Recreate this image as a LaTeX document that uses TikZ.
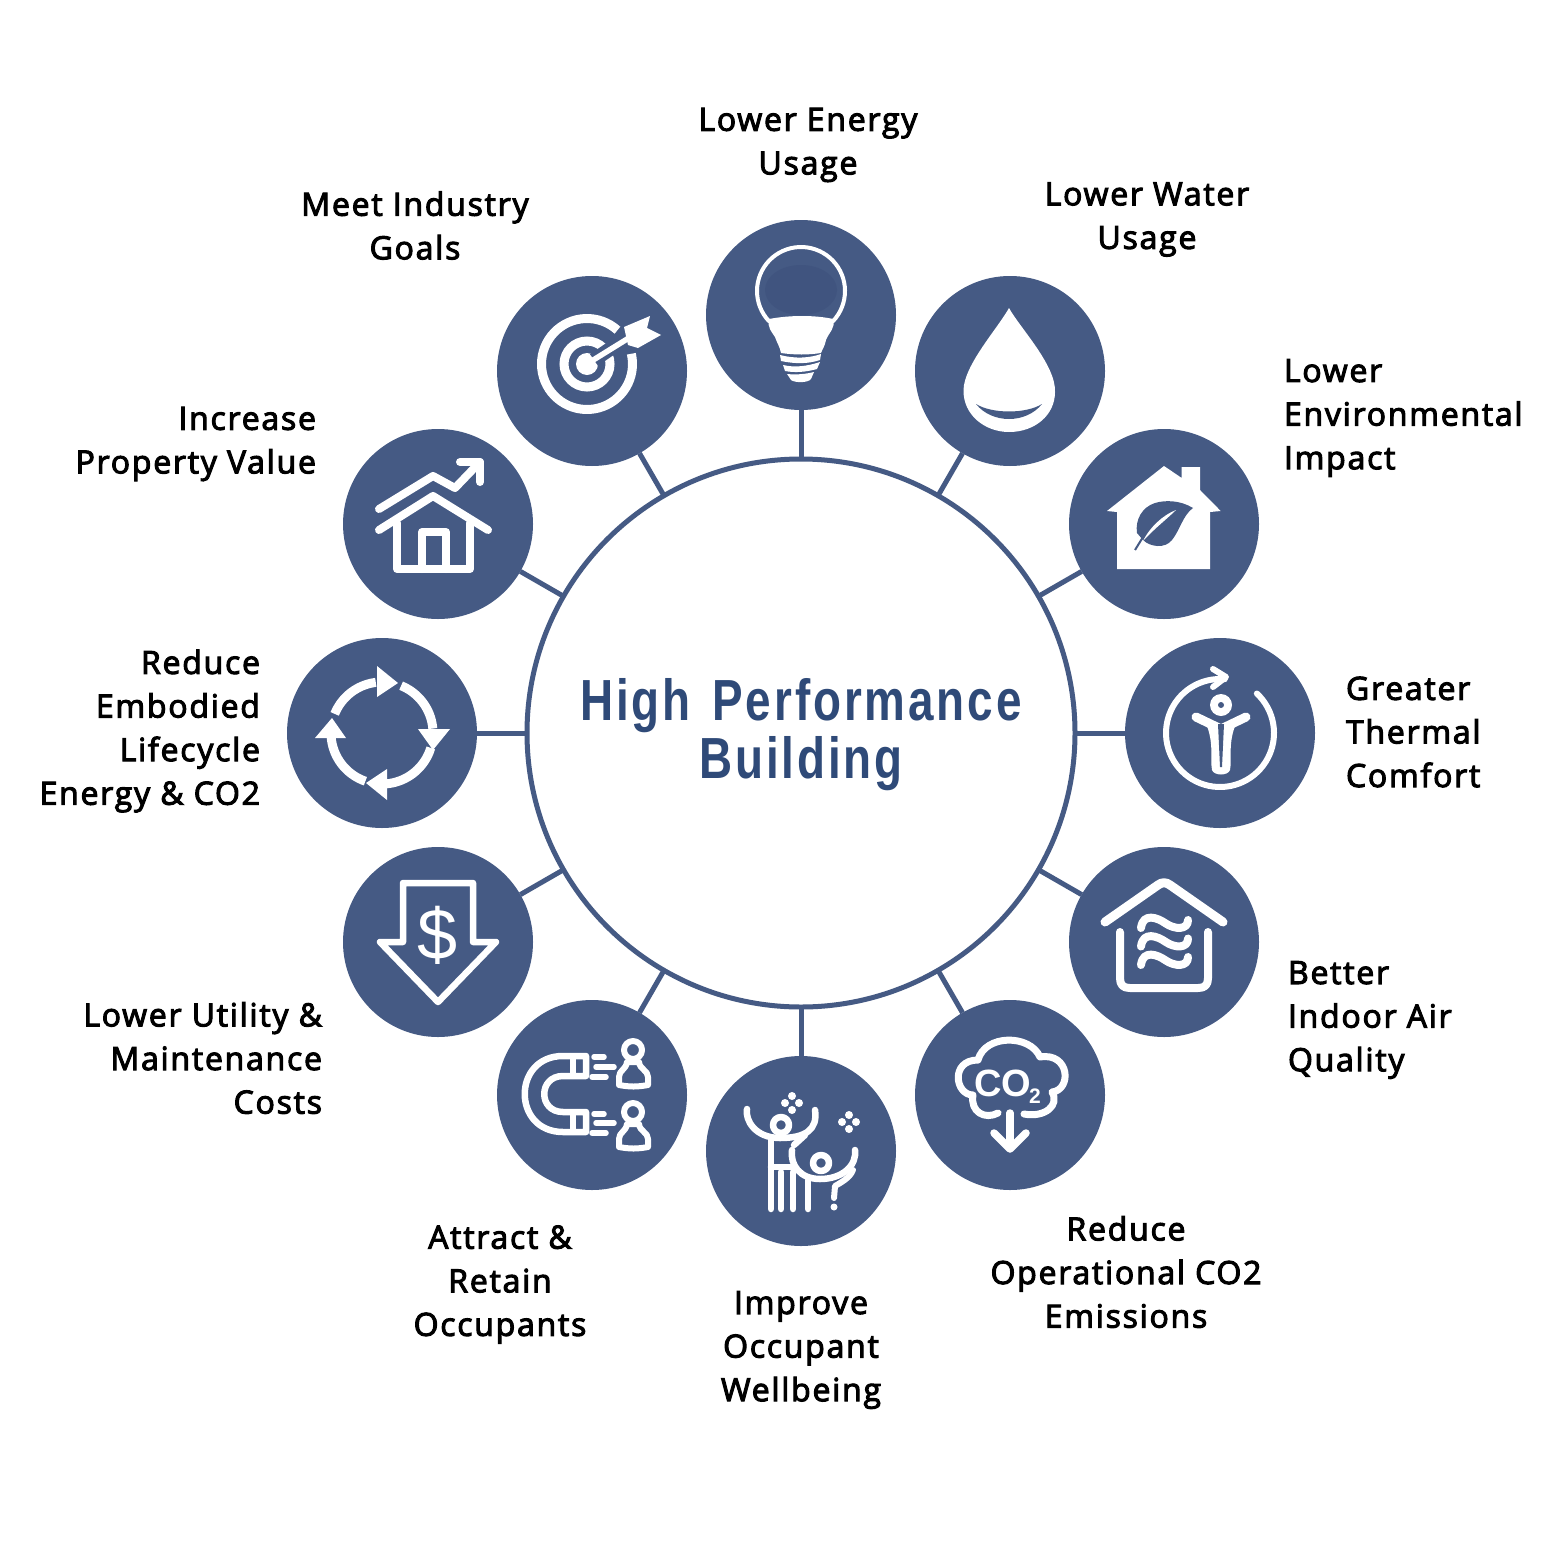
\documentclass[tikz,border=0pt]{standalone}
\usepackage{fontspec}
\setmainfont{Open Sans}[FakeBold=3.2,LetterSpace=5.5]
\newfontfamily\titlefont[FakeStretch=0.79,LetterSpace=5]{Liberation Sans}[BoldFont={Liberation Sans Bold}]
\newfontfamily\iconfont{Liberation Sans}
\definecolor{navy}{HTML}{455A84}
\definecolor{navydark}{HTML}{40547F}
\definecolor{titleblue}{HTML}{2F4A78}
\tikzset{
  hubnode/.style={circle,draw=navy,line width=5pt,fill=white,minimum size=548pt,inner sep=0pt,outer sep=0pt},
  sat/.style={circle,fill=navy,minimum size=190pt,inner sep=0pt,outer sep=0pt},
  conn/.style={draw=navy,line width=5pt},
  lab/.style={font=\fontsize{32}{43.6}\selectfont,text=black,inner sep=0pt,outer sep=0pt},
  labL/.style={lab,align=left,anchor=west},
  labR/.style={lab,align=right,anchor=east},
  labC/.style={lab,align=center,anchor=center},
  ic/.style={draw=white,line cap=round,line join=round,line width=#1},
  ic/.default=6pt,
}
\begin{document}
\begin{tikzpicture}[x=1pt,y=-1pt]
\useasboundingbox (0,0) rectangle (1563,1563);
\fill[white] (0,0) rectangle (1563,1563);
% hub and satellites
\node[hubnode] (hub) at (801,733) {};
\node[sat] (s1) at (801,315) {};
\node[sat] (s2) at (1010,371) {};
\node[sat] (s3) at (1164,524) {};
\node[sat] (s4) at (1220,733) {};
\node[sat] (s5) at (1164,942) {};
\node[sat] (s6) at (1010,1095) {};
\node[sat] (s7) at (801,1151) {};
\node[sat] (s8) at (592,1095) {};
\node[sat] (s9) at (438,942) {};
\node[sat] (s10) at (382,733) {};
\node[sat] (s11) at (438,524) {};
\node[sat] (s12) at (592,371) {};
\foreach \n in {1,...,12} \draw[conn] (hub) -- (s\n);
% title
\node[inner sep=0pt,text=titleblue,align=center,font=\titlefont\bfseries\fontsize{58}{58}\selectfont] (title) at (801,735) {High\hspace{6pt} Performance\\Building};
% labels
\node[labC] (l1) at (808,145) {Lower Energy\\Usage};
\node[labC] (l2) at (1147,219.5) {Lower Water\\Usage};
\node[labL] (l3) at (1284,418) {Lower\\Environmental\\Impact};
\node[labL] (l4) at (1346,732) {Greater\\Thermal\\Comfort};
\node[labL] (l5) at (1288,1020) {Better\\Indoor Air\\Quality};
\node[labC] (l6) at (1126,1272) {Reduce\\Operational CO2\\Emissions};
\node[labC] (l7) at (801,1350) {Improve\\Occupant\\Wellbeing};
\node[labC] (l8) at (500,1284.5) {Attract \&\\Retain\\Occupants};
\node[labR] (l9) at (322,1058) {Lower Utility \&\\Maintenance\\Costs};
\node[labR] (l10) at (260,731) {Reduce\\Embodied\\Lifecycle\\Energy \& CO2};
\node[labR] (l11) at (316,444) {Increase\\Property Value};
\node[labC] (l12) at (415,225.5) {Meet Industry\\Goals};
% bulb
\fill[navydark] (801,290) ellipse[x radius=36pt,y radius=25pt];
\draw[ic=4pt] plot[domain=-43:223,samples=50] ({801+44*cos(\x)},{291-44*sin(\x)});
\fill[white] (769,319) .. controls (790,315) and (815,315) .. (833,319) .. controls (836,328) and (829,332) .. (826,340) .. controls (825,346) and (822,350) .. (821,353) .. controls (808,355) and (795,355) .. (781,353) .. controls (780,347) and (777,343) .. (775,337) .. controls (772,332) and (767,328) .. (769,319) -- cycle;
\fill[white] (780,355) .. controls (795,359) and (810,358) .. (821,354) -- (820,360) .. controls (808,364) and (795,364) .. (781,361) -- cycle;
\fill[white] (783,365) .. controls (795,368) and (808,366) .. (820,362) -- (817,369) .. controls (806,372) and (795,373) .. (785,371) -- cycle;
\fill[white] (787,374) .. controls (797,375) and (806,374) .. (814,372) -- (811,379) .. controls (808,383) and (795,383) .. (791,380) -- cycle;
% drop
\fill[white] (1009,308) .. controls (1020,328) and (1056,365) .. (1055,392) .. controls (1055,415) and (1035,432) .. (1009,432) .. controls (985,432) and (963,415) .. (963.5,390) .. controls (964,365) and (998,328) .. (1009,308) -- cycle;
\fill[navy] (976,404) .. controls (992,424) and (1026,424) .. (1042,404) .. controls (1026,414) and (992,414) .. (976,404) -- cycle;
% eco house
\fill[white] (1164,466) -- (1181.7,478) -- (1181.7,467) -- (1200,467) -- (1200,490) -- (1220.7,511) -- (1210,512) -- (1210,569) -- (1117,569) -- (1117,512) -- (1107,511) -- cycle;
\fill[navy] (1193,508) .. controls (1180,500) and (1165,500) .. (1155,503) .. controls (1142,507) and (1135,520) .. (1137,533) -- (1143,540) .. controls (1150,547) and (1165,549) .. (1172,540) .. controls (1180,530) and (1183,515) .. (1193,508) -- cycle;
\draw[navy,line width=2pt] (1135,550) -- (1143,537);
\fill[white] (1143,541) .. controls (1150,527) and (1163,515) .. (1176,510) .. controls (1168,518) and (1155,528) .. (1143,541) -- cycle;
% thermal comfort
\draw[ic=6pt] plot[domain=47:-275,samples=70] ({1220+54*cos(\x)},{733-54*sin(\x)});
\draw[ic=6pt] (1213,669) -- (1226,677) -- (1213,687);
\fill[white] (1221,705) circle[radius=11pt];
\fill[navy] (1221,705) circle[radius=3pt];
\draw[ic=9pt] (1196,717) -- (1221,729) -- (1246,717);
\fill[white] (1207,726) .. controls (1214,745) and (1210,760) .. (1212,770) .. controls (1214,776) and (1228,776) .. (1230,770) .. controls (1232,760) and (1228,745) .. (1235,726) -- cycle;
\fill[navy] (1218,724) -- (1224,724) -- (1222,767) -- (1220,767) -- cycle;
% air house
\draw[ic=9pt] (1105,922) -- (1158,885) .. controls (1162,882) and (1166,882) .. (1170,885) -- (1223,922);
\draw[ic=8pt] (1120,932) -- (1120,978) .. controls (1120,985) and (1123,988) .. (1130,988) -- (1198,988) .. controls (1205,988) and (1208,985) .. (1208,978) -- (1208,932);
\foreach \dy in {0,18.5,37}{
  \draw[ic=8pt] (1141,{928+\dy}) .. controls (1143,{912+\dy}) and (1158,{918+\dy}) .. (1165,{923+\dy}) .. controls (1175,{930+\dy}) and (1188,{930+\dy}) .. (1188,{920+\dy});
}
% co2 cloud
\draw[ic=7pt] (998,1113) .. controls (985,1120) and (970,1112) .. (973,1095) .. controls (955,1095) and (950,1060) .. (978,1060) .. controls (985,1034) and (1030,1034) .. (1040,1057) .. controls (1070,1052) and (1072,1090) .. (1052,1092) .. controls (1060,1105) and (1045,1118) .. (1024,1114);
\node[inner sep=0pt,text=white,font=\iconfont\bfseries\fontsize{38}{38}\selectfont] (co) at (1003,1083) {CO};
\node[inner sep=0pt,text=white,font=\iconfont\bfseries\fontsize{21}{21}\selectfont] (cotwo) at (1035,1096) {2};
\draw[ic=7.5pt] (1010,1113) -- (1010,1148);
\draw[ic=7.5pt] (994,1133) -- (1010,1149) -- (1026,1133);
% people
\draw[ic=6.5pt] (781,1125) circle[radius=8pt];
\draw[ic=6.5pt] (747,1109) .. controls (745,1120) and (755,1138) .. (780,1138) .. controls (805,1138) and (818,1130) .. (815,1110);
\draw[ic=6.5pt] (771,1138) -- (771,1209);
\draw[ic=6.5pt] (771,1167) -- (792,1167);
\draw[ic=6.5pt] (781,1172) -- (781,1209);
\draw[ic=6.5pt] (793,1172) -- (793,1209);
\draw[ic=6.5pt] (808,1180) -- (808,1209);
\draw[ic=6.5pt] (821,1163) circle[radius=8pt];
\draw[ic=6.5pt] (792,1150) .. controls (790,1165) and (800,1179) .. (820,1179) .. controls (843,1179) and (857,1165) .. (855,1150);
\draw[ic=6.5pt] (805,1135) -- (794,1145);
\draw[ic=6pt] (853,1170) .. controls (850,1178) and (840,1183) .. (835,1186) -- (834,1198);
\fill[white] (834,1207) circle[radius=3.5pt];
\foreach \px/\py in {792/1103,849/1122}{
  \fill[white] (\px,\py-7) circle[radius=4pt] (\px,\py+7) circle[radius=4pt] (\px-7,\py) circle[radius=4pt] (\px+7,\py) circle[radius=4pt];
}
% magnet
\draw[ic=6.5pt] (586,1056) -- (563,1056) .. controls (512,1056) and (512,1132) .. (563,1132) -- (586,1132) -- (586,1112) -- (563,1112) .. controls (538,1112) and (538,1076) .. (563,1076) -- (586,1076) -- cycle;
\draw[ic=6pt] (573,1056) -- (573,1076) (573,1112) -- (573,1132);
\foreach \dx/\yy/\ex in {594/1057/604,596/1067/614,592/1077/606,594/1114/604,596/1123/614,592/1133/606}{
  \draw[ic=5.5pt] (\dx,\yy) -- (\ex,\yy);
}
\foreach \yy in {1050,1112}{
  \draw[ic=6pt] (633,\yy) circle[radius=9pt];
  \draw[ic=6pt] (619,{\yy+35}) .. controls (630,{\yy+37}) and (637,{\yy+37}) .. (648,{\yy+35}) -- (648,{\yy+27}) .. controls (648,{\yy+20}) and (640,{\yy+20}) .. (639,{\yy+12}) -- (627,{\yy+12}) .. controls (626,{\yy+20}) and (619,{\yy+20}) .. (619,{\yy+27}) -- cycle;
}
% dollar arrow
\draw[ic=6.5pt] (403,883) -- (473,883) -- (473,942) -- (496,942) -- (438,1002) -- (380,942) -- (403,942) -- cycle;
\node[inner sep=0pt,text=white,font=\iconfont\fontsize{72}{72}\selectfont] (dollar) at (438,935) {\$};
% cycle arrows
\foreach \a/\b in {158/97,68/5,-17/-85,-109/-175}{
  \draw[draw=white,line width=9pt] plot[domain=\a:\b,samples=20] ({382+51*cos(\x)},{733-51*sin(\x)});
}
\fill[white] (377,666) -- (398,683) -- (377,697) -- cycle;
\fill[white] (450,729) -- (433,750) -- (418,729) -- cycle;
\fill[white] (387,800) -- (366,783) -- (387,769) -- cycle;
\fill[white] (315,738) -- (332,718) -- (346,738) -- cycle;
% value house
\draw[ic=8pt] (379,509) -- (433,476) -- (455,488) -- (480,462);
\draw[ic=8pt] (460,462) -- (480,462) -- (480,482);
\draw[ic=8pt] (379,530) -- (433,496) -- (488,530);
\draw[ic=8pt] (397,523) -- (397,569) -- (470,569) -- (470,523);
\draw[ic=8pt] (422,569) -- (422,532) -- (446,532) -- (446,569);
% target
\draw[draw=white,line width=9pt] plot[domain=48:373,samples=60] ({587+45.5*cos(\x)},{364-45.5*sin(\x)});
\draw[draw=white,line width=9pt] (587,364) circle[radius=23pt];
\fill[white] (587,364) circle[radius=11pt];
\draw[navy,line width=14pt] (594,360) -- (626,338);
\draw[draw=white,line width=5.5pt] (590,362) -- (632,336);
\fill[white] (624,327) -- (650,316) -- (647,328) -- (661,335) -- (638,348) -- (628,345) -- cycle;
\end{tikzpicture}
\end{document}
